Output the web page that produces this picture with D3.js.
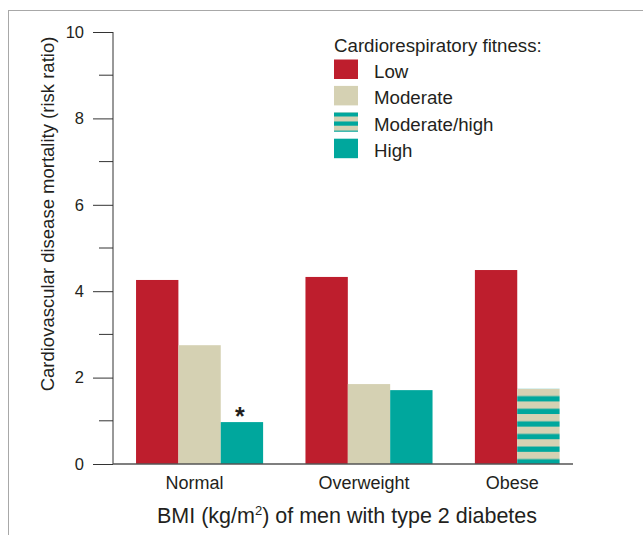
<!DOCTYPE html>
<html>
<head>
<meta charset="utf-8">
<script src="https://cdn.jsdelivr.net/npm/d3@7"></script>
<style>
  html, body { margin: 0; padding: 0; background: #fff; }
  svg text { font-family: "Liberation Sans", Arial, Helvetica, sans-serif; fill: #231f20; }
</style>
</head>
<body>
<svg id="chart" width="643" height="535"></svg>
<script>
// ---- data ----
const groups = ["Normal", "Overweight", "Obese"];
const seriesNames = ["Low", "Moderate", "Moderate/high", "High"];
const lowValues = [4.26, 4.33, 4.49];
const moderateValues = [2.75, 1.85, null];
const moderateHighValues = [null, null, 1.74];
const highValues = [0.97, 1.71, null];
const yTicks = [0, 2, 4, 6, 8, 10];
const yMinorTicks = [1, 3, 5, 7, 9];
const significant = [false, false, false, true]; // asterisk on Normal/High
const yTitle = "Cardiovascular disease mortality (risk ratio)";
const legendTitle = "Cardiorespiratory fitness:";

const colors = { "Low": "#be1e2d", "Moderate": "#d5d1b3", "High": "#00a79d" };

const svg = d3.select("#chart");

// frame
svg.append("rect").attr("x", 8.5).attr("y", 10.5).attr("width", 700).attr("height", 600)
  .attr("fill", "none").attr("stroke", "#a8a8a8").attr("stroke-width", 1);

// patterns
const defs = svg.append("defs");
function stripePattern(id, period, beigeH, offsetY) {
  const p = defs.append("pattern").attr("id", id).attr("patternUnits", "userSpaceOnUse")
    .attr("width", 10).attr("height", period)
    .attr("patternTransform", `translate(0,${offsetY})`);
  p.append("rect").attr("width", 10).attr("height", period).attr("fill", colors.High);
  p.append("rect").attr("width", 10).attr("height", beigeH).attr("fill", colors.Moderate);
}

// scales
const y = d3.scaleLinear().domain([0, 10]).range([464, 32]);
const x = d3.scaleBand().domain(groups).range([113, 625]).paddingInner(0.25).paddingOuter(0.136);
const inner = d3.scaleBand().domain([0, 1, 2]).range([0, x.bandwidth()]);

// build bar records
const seriesValues = [lowValues, moderateValues, moderateHighValues, highValues];
const bars = [];
groups.forEach((g, gi) => {
  let slot = 0;
  seriesValues.forEach((vals, si) => {
    const v = vals[gi];
    if (v == null) return;
    bars.push({ group: g, gi, series: seriesNames[si], value: v, slot, star: gi === 0 && significant[si] });
    slot++;
  });
});
const slotsPerGroup = groups.map((g, gi) => bars.filter(b => b.gi === gi).length);

// striped pattern anchored at mod/high bar top
const mh = bars.find(b => b.series === "Moderate/high");
stripePattern("stripesBar", 12.6, 7.3, y(mh.value));

function fillFor(s, patId) {
  if (s === "Moderate/high") return `url(#${patId})`;
  return colors[s];
}

// bars
svg.append("g").selectAll("rect").data(bars).join("rect")
  .attr("x", d => x(d.group) + inner(d.slot))
  .attr("y", d => y(d.value))
  .attr("width", inner.bandwidth())
  .attr("height", d => y(0) - y(d.value))
  .attr("fill", d => fillFor(d.series, "stripesBar"));

// asterisk
svg.append("g").selectAll("text").data(bars.filter(b => b.star)).join("text")
  .attr("x", d => x(d.group) + inner(d.slot) + inner.bandwidth() / 2 - 2)
  .attr("y", d => y(d.value) + 3)
  .attr("text-anchor", "middle")
  .style("font-size", "25px").attr("font-weight", "bold")
  .text("*");

// y axis
const yAxisG = svg.append("g").attr("transform", "translate(113,0)");
yAxisG.call(d3.axisLeft(y).tickValues(yTicks).tickSize(20).tickPadding(9).tickFormat(d3.format("d")));
yAxisG.attr("font-size", null).attr("font-family", null);
yAxisG.select(".domain").attr("stroke", "#333").attr("d", `M0,${y(10)}V${y(0)}`);
yAxisG.selectAll(".tick line").attr("stroke", "#333");
yAxisG.selectAll(".tick text").style("font-size", "16.5px").style("fill", "#231f20");
yAxisG.append("g").selectAll("line").data(yMinorTicks).join("line")
  .attr("x1", -14).attr("x2", 0).attr("y1", d => y(d)).attr("y2", d => y(d))
  .attr("stroke", "#333");

// x axis baseline
svg.append("line").attr("x1", 113).attr("x2", 573).attr("y1", y(0)).attr("y2", y(0))
  .attr("stroke", "#555").attr("stroke-width", 1.6);

// category labels
svg.append("g").selectAll("text").data(groups).join("text")
  .attr("x", (g, gi) => x(g) + slotsPerGroup[gi] * inner.bandwidth() / 2 - 5)
  .attr("y", 489)
  .attr("text-anchor", "middle")
  .style("font-size", "18px")
  .text(d => d);

// x title
const xt = svg.append("text").attr("x", 347).attr("y", 523).attr("text-anchor", "middle").style("font-size", "21.5px");
xt.append("tspan").text("BMI (kg/m");
xt.append("tspan").style("font-size", "13px").attr("dy", -8).text("2");
xt.append("tspan").attr("dy", 8).text(") of men with type 2 diabetes");

// y title
svg.append("text").attr("transform", "translate(54,214) rotate(-90)")
  .attr("text-anchor", "middle").style("font-size", "18.5px").text(yTitle);

// legend
const lg = svg.append("g");
lg.append("text").attr("x", 334).attr("y", 52).style("font-size", "18.7px").text(legendTitle);
stripePattern("stripesLegend", 9.2, 5, 59.5 + 2 * 26.4 + 2.3);
const items = lg.selectAll("g.item").data(seriesNames).join("g").attr("class", "item")
  .attr("transform", (d, i) => `translate(334,${59.5 + i * 26.4})`);
items.append("rect").attr("width", 24).attr("height", 19.5)
  .attr("fill", d => fillFor(d, "stripesLegend"));
items.append("text").attr("x", 40).attr("y", 18.5).style("font-size", "18.7px").text(d => d);
</script>
</body>
</html>
